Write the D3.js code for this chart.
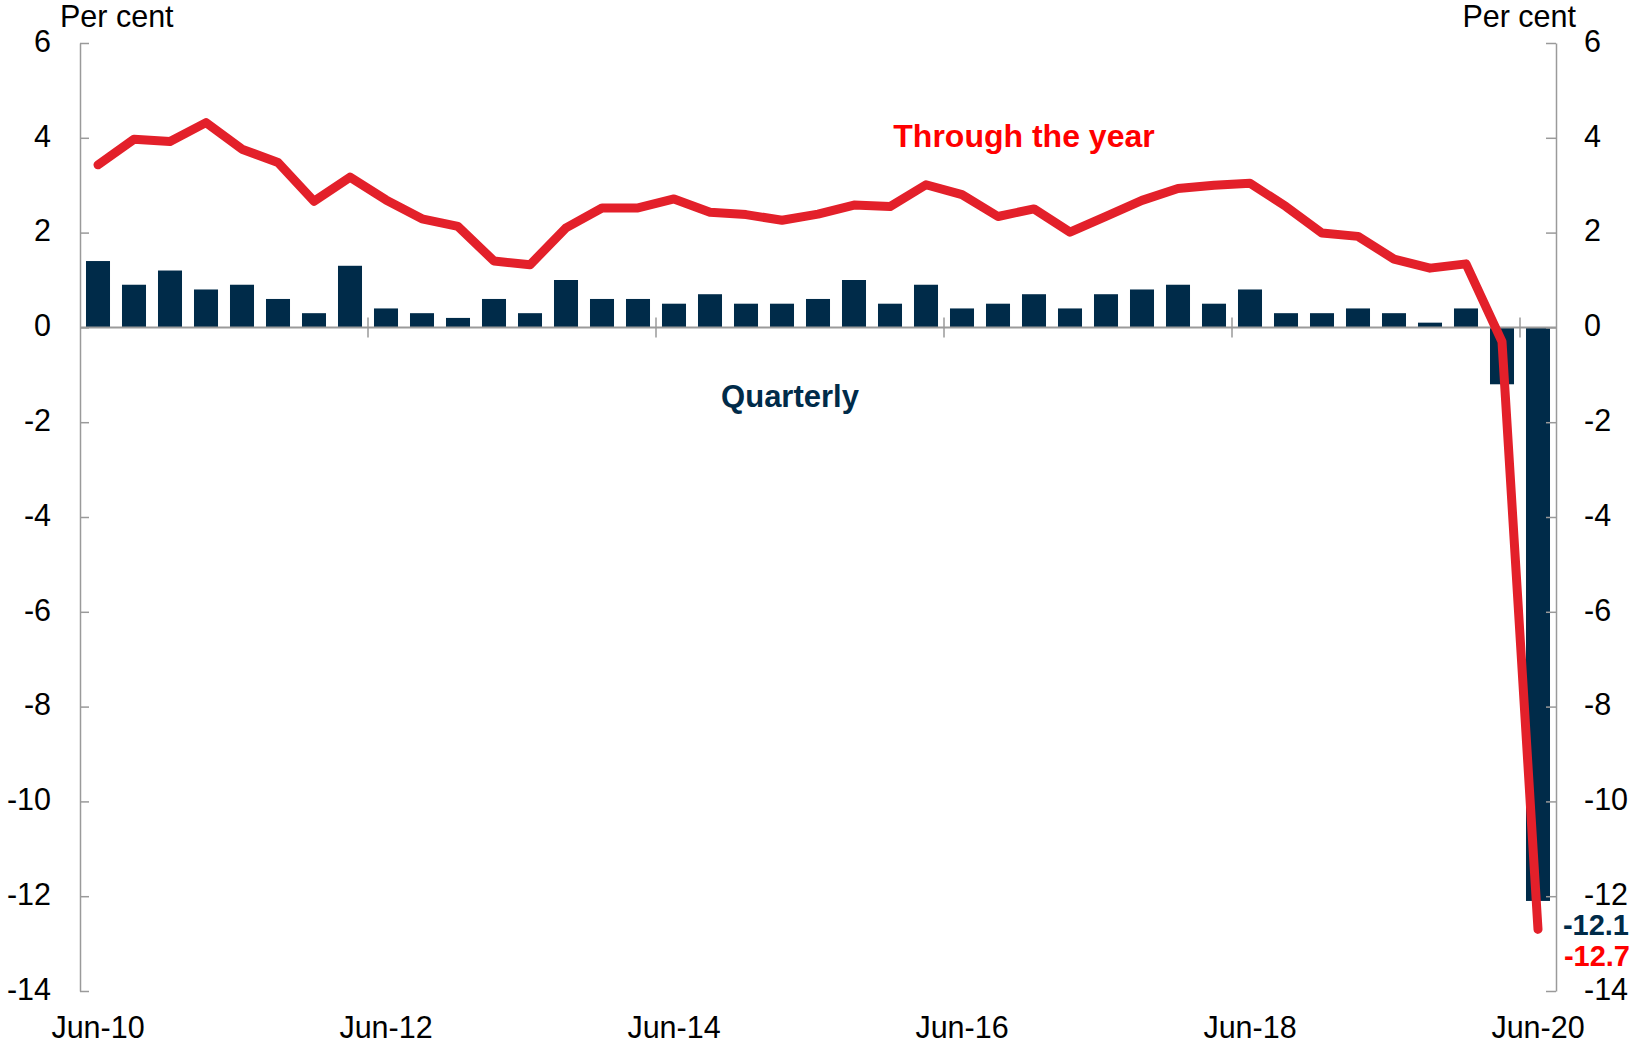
<!DOCTYPE html>
<html>
<head>
<meta charset="utf-8">
<script src="https://cdn.jsdelivr.net/npm/d3@7"></script>
<style>
  html, body { margin: 0; padding: 0; background: #fff; }
  svg { display: block; }
  text { font-family: "Liberation Sans", Arial, sans-serif; }
</style>
</head>
<body>
<svg id="chart" width="1633" height="1048"></svg>
<script>
// Quarters Jun-10 .. Jun-20
const quarters = [
  "Jun-10","Sep-10","Dec-10","Mar-11","Jun-11","Sep-11","Dec-11","Mar-12",
  "Jun-12","Sep-12","Dec-12","Mar-13","Jun-13","Sep-13","Dec-13","Mar-14",
  "Jun-14","Sep-14","Dec-14","Mar-15","Jun-15","Sep-15","Dec-15","Mar-16",
  "Jun-16","Sep-16","Dec-16","Mar-17","Jun-17","Sep-17","Dec-17","Mar-18",
  "Jun-18","Sep-18","Dec-18","Mar-19","Jun-19","Sep-19","Dec-19","Mar-20",
  "Jun-20"
];
// Quarterly growth (bars), per cent
const quarterly = [
  1.4, 0.9, 1.2, 0.8, 0.9, 0.6, 0.3, 1.3,
  0.4, 0.3, 0.2, 0.6, 0.3, 1.0, 0.6, 0.6,
  0.5, 0.7, 0.5, 0.5, 0.6, 1.0, 0.5, 0.9,
  0.4, 0.5, 0.7, 0.4, 0.7, 0.8, 0.9, 0.5,
  0.8, 0.3, 0.3, 0.4, 0.3, 0.1, 0.4, -1.2,
  -12.1
];
// Through the year growth (line), per cent
const throughYear = [
  3.43, 3.97, 3.92, 4.32, 3.76, 3.48, 2.66, 3.17,
  2.69, 2.29, 2.13, 1.40, 1.32, 2.10, 2.52, 2.52,
  2.71, 2.43, 2.38, 2.26, 2.39, 2.58, 2.55, 3.01,
  2.80, 2.34, 2.50, 2.01, 2.34, 2.68, 2.93, 3.00,
  3.04, 2.55, 1.99, 1.92, 1.44, 1.25, 1.34, -0.30,
  -12.7
];
const yTicks = [6, 4, 2, 0, -2, -4, -6, -8, -10, -12, -14];
const xLabelTicks = ["Jun-10","Jun-12","Jun-14","Jun-16","Jun-18","Jun-20"];
const boundaryTicks = ["Jun-12","Jun-14","Jun-16","Jun-18","Jun-20"];

const navy = "#002B49";
const lineRed = "#E3202A";
const textRed = "#FF0000";
const axisGrey = "#9a9a9a";
const fontSize = 30.5;

const svg = d3.select("#chart");
const plotL = 80, plotR = 1556, plotT = 43, plotB = 991;

const x = d3.scaleBand().domain(quarters).range([plotL, plotR])
  .paddingInner(0.333).paddingOuter(0.1665);
const y = d3.scaleLinear().domain([-14, 6]).range([plotB, plotT]);

// Bars
svg.append("g").selectAll("rect").data(quarters).join("rect")
  .attr("x", d => x(d))
  .attr("width", x.bandwidth())
  .attr("y", (d, i) => y(Math.max(0, quarterly[i])))
  .attr("height", (d, i) => Math.abs(y(quarterly[i]) - y(0)))
  .attr("fill", navy);

// Zero line
svg.append("line")
  .attr("x1", plotL).attr("x2", plotR)
  .attr("y1", y(0)).attr("y2", y(0))
  .attr("stroke", axisGrey).attr("stroke-width", 2);

// Category boundary ticks crossing zero line
const gap = (x.step() - x.bandwidth()) / 2;
svg.append("g").selectAll("line").data(boundaryTicks).join("line")
  .attr("x1", d => x(d) - gap).attr("x2", d => x(d) - gap)
  .attr("y1", y(0) - 10).attr("y2", y(0) + 10)
  .attr("stroke", axisGrey).attr("stroke-width", 1.5);

const fmt = d => String(d);
// Left axis
const gl = svg.append("g").attr("transform", `translate(${plotL},0)`)
  .call(d3.axisLeft(y).tickValues(yTicks).tickFormat(fmt)
    .tickSizeInner(-9).tickSizeOuter(0).tickPadding(29));
// Right axis
const gr = svg.append("g").attr("transform", `translate(${plotR},0)`)
  .call(d3.axisRight(y).tickValues(yTicks).tickFormat(fmt)
    .tickSizeInner(-10).tickSizeOuter(0).tickPadding(28));
[gl, gr].forEach(g => {
  g.select(".domain").attr("stroke", axisGrey).attr("stroke-width", 1.5);
  g.selectAll(".tick line").attr("stroke", axisGrey).attr("stroke-width", 1.5);
  g.selectAll(".tick text")
    .attr("font-size", fontSize).attr("fill", "#000")
    .attr("font-family", '"Liberation Sans", Arial, sans-serif')
    .attr("dy", "0.27em");
});

// Bottom category labels
const gx = svg.append("g").attr("transform", `translate(0,1000)`)
  .call(d3.axisBottom(x).tickValues(xLabelTicks).tickSize(0).tickPadding(16));
gx.select(".domain").remove();
gx.selectAll(".tick text")
  .attr("font-size", fontSize).attr("fill", "#000")
  .attr("font-family", '"Liberation Sans", Arial, sans-serif');

// Through-the-year line
const line = d3.line()
  .x((d, i) => x(quarters[i]) + x.bandwidth() / 2)
  .y(d => y(d));
svg.append("path").datum(throughYear)
  .attr("d", line)
  .attr("fill", "none")
  .attr("stroke", lineRed)
  .attr("stroke-width", 9)
  .attr("stroke-linejoin", "round")
  .attr("stroke-linecap", "round");

// Unit labels
svg.append("text").attr("x", 60).attr("y", 27)
  .attr("font-size", fontSize).attr("fill", "#000").text("Per cent");
svg.append("text").attr("x", 1576).attr("y", 27).attr("text-anchor", "end")
  .attr("font-size", fontSize).attr("fill", "#000").text("Per cent");

// Series labels
svg.append("text").attr("x", 1024).attr("y", 147).attr("text-anchor", "middle")
  .attr("font-size", 32).attr("font-weight", "bold").attr("fill", textRed)
  .text("Through the year");
svg.append("text").attr("x", 790).attr("y", 407).attr("text-anchor", "middle")
  .attr("font-size", 31).attr("font-weight", "bold").attr("fill", navy)
  .text("Quarterly");

// Latest value labels
svg.append("text").attr("x", 1629).attr("y", 935).attr("text-anchor", "end")
  .attr("font-size", 29).attr("font-weight", "bold").attr("fill", navy)
  .text(quarterly[quarterly.length - 1].toFixed(1));
svg.append("text").attr("x", 1630).attr("y", 966).attr("text-anchor", "end")
  .attr("font-size", 29).attr("font-weight", "bold").attr("fill", textRed)
  .text(throughYear[throughYear.length - 1].toFixed(1));
</script>
</body>
</html>
